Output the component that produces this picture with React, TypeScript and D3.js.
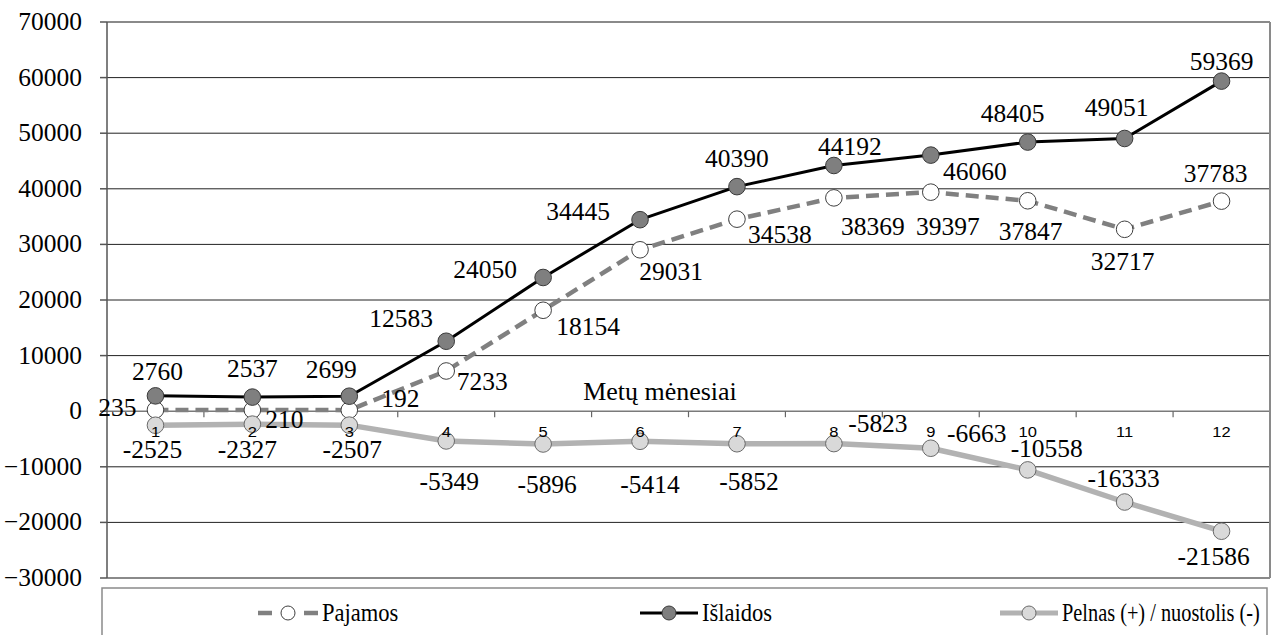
import React from "react";
import * as d3 from "d3";

const months = ["1", "2", "3", "4", "5", "6", "7", "8", "9", "10", "11", "12"];
const pajamos = [235, 210, 192, 7233, 18154, 29031, 34538, 38369, 39397, 37847, 32717, 37783];
const islaidos = [2760, 2537, 2699, 12583, 24050, 34445, 40390, 44192, 46060, 48405, 49051, 59369];
const pelnas = [-2525, -2327, -2507, -5349, -5896, -5414, -5852, -5823, -6663, -10558, -16333, -21586];
const yTicks = [-30000, -20000, -10000, 0, 10000, 20000, 30000, 40000, 50000, 60000, 70000];
const seriesNames = ["Pajamos", "Išlaidos", "Pelnas (+) / nuostolis (-)"];
const axisTitle = "Metų mėnesiai";

// label placement offsets (dx, dy to baseline) relative to each point
const pajamosOffsets = [[-38, 6], [32, 18], [51, -3], [36, 19], [45, 25], [31, 30], [43, 24], [39, 37], [17, 43], [3, 39], [-2, 41], [-6, -19]];
const islaidosOffsets = [[2, -16], [0, -20], [-18, -18], [-45, -14], [-58, 1], [-62, 0], [0, -20], [16, -10], [44, 25], [-15, -20], [-8, -22], [0, -11]];
const pelnasOffsets = [[-3, 33], [-5, 34], [3, 33], [3, 49], [4, 49], [10, 52], [12, 46], [44, -12], [46, -6], [19, -13], [-1, -15], [-8, 34]];

const W = 1278;
const H = 635;
const left = 107;
const right = 1270;
const top = 22;
const bottom = 578;
const SX = 1.04;
const FS = 24.5;
const SERIF = "Liberation Serif, Times New Roman, serif";
const SANS = "Liberation Sans, Arial, sans-serif";

function T({ x, y, anchor = "middle", size = FS, family = SERIF, sx = SX, children }: any) {
  return (
    <text
      transform={`translate(${x},${y}) scale(${sx},1)`}
      textAnchor={anchor}
      fontSize={size}
      fontFamily={family}
      fill="#000"
    >
      {children}
    </text>
  );
}

export default function App() {
  const x = d3.scaleBand<string>().domain(months).range([left, right]);
  const y = d3.scaleLinear().domain([-30000, 70000]).range([bottom, top]);
  const cx = (i: number) => (x(months[i]) as number) + x.bandwidth() / 2;
  const line = d3
    .line<number>()
    .x((_, i) => cx(i))
    .y((d) => y(d));

  const series = [
    { name: seriesNames[0], data: pajamos, offs: pajamosOffsets, stroke: "#808080", width: 4.5, dash: "13,7", fill: "#ffffff", mstroke: "#404040" },
    { name: seriesNames[1], data: islaidos, offs: islaidosOffsets, stroke: "#000000", width: 3, dash: null, fill: "#7f7f7f", mstroke: "#3a3a3a" },
    { name: seriesNames[2], data: pelnas, offs: pelnasOffsets, stroke: "#b2b2b2", width: 5.5, dash: null, fill: "#d9d9d9", mstroke: "#6a6a6a" },
  ];

  const boundaries = months.map((m) => x(m) as number).slice(1);

  return (
    <svg width={W} height={H} style={{ position: "absolute", left: 0, top: 0, background: "#fff" }}>
      <rect x={0} y={0} width={W} height={H} fill="#fff" />
      {yTicks.map((t) => (
        <line key={"g" + t} x1={left} x2={right} y1={y(t)} y2={y(t)} stroke={t === 0 ? "#7a7a7a" : "#222"} strokeWidth={t === 0 ? 1.5 : 1} />
      ))}
      <line x1={left} x2={right} y1={top} y2={top} stroke="#8a8a8a" strokeWidth={2} />
      <line x1={right} x2={right} y1={top} y2={bottom} stroke="#8a8a8a" strokeWidth={2} />
      <line x1={left} x2={right} y1={bottom} y2={bottom} stroke="#8a8a8a" strokeWidth={2} />
      <line x1={left} x2={left} y1={top} y2={bottom} stroke="#555" strokeWidth={1.5} />
      {yTicks.map((t) => (
        <g key={"yt" + t}>
          <line x1={left - 7} x2={left} y1={y(t)} y2={y(t)} stroke="#555" strokeWidth={1.5} />
          <T x={82} y={y(t) + 8} anchor="end">{d3.format("d")(t)}</T>
        </g>
      ))}
      {boundaries.map((b, i) => (
        <line key={"xt" + i} x1={b} x2={b} y1={y(0)} y2={y(0) + 6} stroke="#666" strokeWidth={1.2} />
      ))}
      <T x={660} y={400} size={24.5} sx={1.06}>{axisTitle}</T>
      {series.map((s) => (
        <g key={s.name}>
          <path d={line(s.data) as string} fill="none" stroke={s.stroke} strokeWidth={s.width} strokeDasharray={s.dash || undefined} strokeLinejoin="round" />
          {s.data.map((v, i) => (
            <circle key={i} cx={cx(i)} cy={y(v)} r={8.3} fill={s.fill} stroke={s.mstroke} strokeWidth={1} />
          ))}
        </g>
      ))}
      {months.map((m, i) => (
        <T key={"c" + m} x={cx(i)} y={437} size={15} family={SANS} sx={1.1}>{m}</T>
      ))}
      {series.map((s) =>
        s.data.map((v, i) => (
          <T key={s.name + "l" + i} x={cx(i) + s.offs[i][0]} y={y(v) + s.offs[i][1]}>{String(v)}</T>
        ))
      )}
      <rect x={102} y={588} width={1165} height={60} fill="#fff" stroke="#8a8a8a" strokeWidth={1.5} />
      <g>
        <line x1={258} x2={318} y1={613} y2={613} stroke={series[0].stroke} strokeWidth={4.5} strokeDasharray="14,32,14" />
        <circle cx={288} cy={613} r={7} fill={series[0].fill} stroke={series[0].mstroke} />
        <T x={322} y={621} anchor="start" size={24.5} sx={0.92}>{seriesNames[0]}</T>
        <line x1={640} x2={698} y1={613} y2={613} stroke={series[1].stroke} strokeWidth={3} />
        <circle cx={669} cy={613} r={7} fill={series[1].fill} stroke={series[1].mstroke} />
        <T x={702} y={621} anchor="start" size={24.5} sx={0.92}>{seriesNames[1]}</T>
        <line x1={1000} x2={1058} y1={613} y2={613} stroke={series[2].stroke} strokeWidth={5} />
        <circle cx={1029} cy={613} r={7} fill={series[2].fill} stroke={series[2].mstroke} />
        <T x={1062} y={621} anchor="start" size={24.5} sx={0.83}>{seriesNames[2]}</T>
      </g>
    </svg>
  );
}
